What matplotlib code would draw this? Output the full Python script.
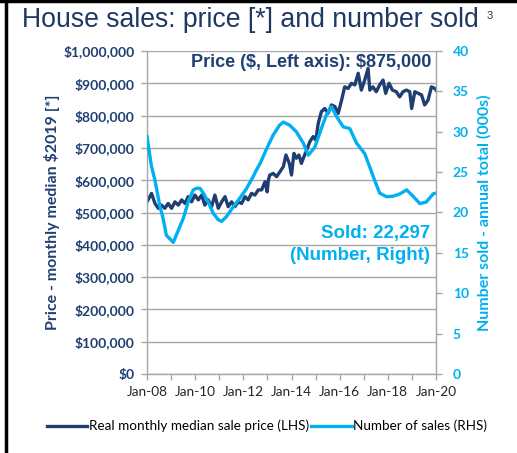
import matplotlib
matplotlib.use("Agg")
import matplotlib.pyplot as plt
from matplotlib.lines import Line2D

# ---- data ----
price_t = [2008.0, 2008.19, 2008.33, 2008.47, 2008.6, 2008.74, 2008.88, 2009.02, 2009.16, 2009.3,
           2009.44, 2009.58, 2009.71, 2009.85, 2009.99, 2010.13, 2010.27, 2010.4, 2010.54, 2010.68,
           2010.82, 2010.96, 2011.1, 2011.24, 2011.37, 2011.51, 2011.65, 2011.79, 2011.93, 2012.07,
           2012.2, 2012.34, 2012.48, 2012.62, 2012.76, 2012.9, 2012.99, 2013.04, 2013.1, 2013.24,
           2013.38, 2013.52, 2013.66, 2013.77, 2013.91, 2014.0, 2014.1, 2014.2, 2014.31, 2014.41,
           2014.49, 2014.63, 2014.76, 2014.9, 2015.01, 2015.11, 2015.24, 2015.38, 2015.52, 2015.66,
           2015.8, 2015.94, 2016.08, 2016.21, 2016.35, 2016.49, 2016.63, 2016.77, 2016.9, 2017.04,
           2017.18, 2017.25, 2017.38, 2017.52, 2017.66, 2017.8, 2017.91, 2018.05, 2018.19, 2018.35,
           2018.49, 2018.63, 2018.77, 2018.91, 2018.99, 2019.12, 2019.26, 2019.4, 2019.53, 2019.67,
           2019.81, 2019.95, 2020.0]
price = [533, 559, 528, 513, 523, 513, 528, 513, 533, 523,
         539, 528, 549, 533, 554, 539, 554, 523, 539, 518,
         554, 513, 533, 549, 518, 533, 518, 533, 528, 549,
         539, 559, 554, 570, 570, 595, 564, 601, 616, 621,
         611, 626, 642, 678, 652, 616, 683, 668, 678, 652,
         668, 693, 719, 735, 724, 776, 812, 822, 807, 833,
         828, 807, 848, 889, 884, 900, 895, 931, 879, 910,
         946, 879, 889, 874, 895, 910, 869, 900, 879, 874,
         858, 874, 879, 874, 822, 874, 869, 864, 833, 848,
         889, 884, 879]

sold_t = [2008.0, 2008.18, 2008.33, 2008.54, 2008.65, 2008.74, 2008.8, 2009.09, 2009.3, 2009.51,
          2009.71, 2009.92, 2010.06, 2010.2, 2010.34, 2010.54, 2010.75, 2010.96, 2011.1, 2011.3,
          2011.58, 2011.86, 2012.14, 2012.4, 2012.55, 2012.7, 2013.0, 2013.24, 2013.5, 2013.66,
          2013.93, 2014.2, 2014.49, 2014.7, 2014.97, 2015.24, 2015.45, 2015.66, 2015.87, 2016.15,
          2016.42, 2016.7, 2017.04, 2017.24, 2017.45, 2017.66, 2017.94, 2018.2, 2018.5, 2018.78,
          2019.05, 2019.33, 2019.6, 2019.88, 2020.0]
sold = [29.4, 25.8, 24.0, 20.7, 19.5, 18.2, 17.2, 16.3, 17.8, 19.3,
        21.3, 22.8, 23.0, 23.0, 22.4, 21.3, 19.9, 19.1, 18.9, 19.5,
        20.7, 21.8, 23.0, 24.4, 25.3, 26.1, 28.1, 29.6, 30.8, 31.2,
        30.8, 30.0, 28.6, 27.1, 28.1, 30.4, 32.1, 33.1, 31.9, 30.6,
        30.4, 28.6, 27.3, 25.7, 24.0, 22.4, 21.96, 22.0, 22.3, 22.8,
        22.0, 21.1, 21.3, 22.3, 22.4]

years = list(range(2008, 2021))
xtick_labels = ["Jan-%02d" % (y % 100) if y % 2 == 0 else "" for y in years]
left_ticks = list(range(0, 1000001, 100000))
left_labels = ["$0"] + ["${:,}".format(v) for v in left_ticks[1:]]
right_ticks = list(range(0, 41, 5))

NAVY = "#1F3F73"
TITLE = "#1F3864"
BLUE = "#00B0F0"
GRID = "#A6A6A6"

fig = plt.figure(figsize=(5.17, 4.53), dpi=100)
ax = fig.add_axes([147/517, 1-374/453, 289/517, 323/453])
ax2 = ax.twinx()

ax.plot(price_t, [p*1000 for p in price], color=NAVY, lw=2.4, solid_joinstyle="round")
ax2.plot(sold_t, sold, color=BLUE, lw=2.4, solid_joinstyle="round")

ax.set_xlim(2008, 2020)
ax.set_ylim(0, 1000000)
ax2.set_ylim(0, 40)
ax.set_xticks(years)
ax.set_xticklabels(xtick_labels, fontsize=9.8, color="#262626", family="Lato")
ax.set_yticks(left_ticks)
ax.set_yticklabels(left_labels, fontsize=10, color=NAVY, fontweight="bold", family="Lato")
ax2.set_yticks(right_ticks)
ax2.set_yticklabels([str(v) for v in right_ticks], fontsize=10, color=BLUE, fontweight="bold", family="Lato")

ax.grid(axis="y", color=GRID, lw=1)
ax.set_axisbelow(True)
for a in (ax, ax2):
    a.spines["top"].set_visible(False)
    for s in ("left", "right", "bottom"):
        a.spines[s].set_color(GRID)
        a.spines[s].set_linewidth(1)
ax.spines["right"].set_visible(False)
ax2.spines["left"].set_visible(False)
ax2.spines["bottom"].set_visible(False)
ax.tick_params(axis="y", length=4, color=GRID, width=1, pad=5)
ax.tick_params(axis="x", length=4, color=GRID, width=1, pad=5)
ax2.tick_params(axis="y", length=4, color=GRID, width=1, pad=8)

ax.set_ylabel("Price - monthly median $2019 [*]", fontsize=11.5, color=NAVY, fontweight="bold",
              family="Lato", labelpad=2)
ax2.set_ylabel("Number sold - annual total (000s)", fontsize=11.5, color=BLUE, fontweight="bold",
               family="Lato", labelpad=6)

ax.text(0.985, 0.963, r"Price (\$, Left axis): \$875,000", transform=ax.transAxes, ha="right", va="center",
        fontsize=13, fontweight="bold", color=NAVY, family="Liberation Sans", zorder=5)
ax.text(0.98, 0.436, "Sold: 22,297", transform=ax.transAxes, ha="right", va="center",
        fontsize=13.5, fontweight="bold", color=BLUE, family="Liberation Sans")
ax.text(0.98, 0.368, "(Number, Right)", transform=ax.transAxes, ha="right", va="center",
        fontsize=13.5, fontweight="bold", color=BLUE, family="Liberation Sans")

fig.text(22/517, 1-20/453, "House sales: price [*] and number sold", fontsize=19.2, color=TITLE,
         family="Liberation Sans", ha="left", va="center")
fig.text(487/517, 1-16/453, "3", fontsize=8, color=TITLE, family="Liberation Sans", ha="left", va="center")

handles = [Line2D([], [], color=NAVY, lw=2.4), Line2D([], [], color=BLUE, lw=2.4)]
fig.legend(handles, ["Real monthly median sale price (LHS)", "Number of sales (RHS)"],
           loc="center", bbox_to_anchor=(267/517, 1-426/453), ncol=2, frameon=False,
           handlelength=3.0, handletextpad=0.1, columnspacing=0.2,
           prop={"family": "Lato", "size": 9.7})

# frame borders
fig.add_artist(Line2D([0, 1], [1-1/453, 1-1/453], transform=fig.transFigure, color="black", lw=2.5))
fig.add_artist(Line2D([5.5/517, 5.5/517], [0, 1], transform=fig.transFigure, color="black", lw=2.5))

fig.savefig("out.png", dpi=100)
